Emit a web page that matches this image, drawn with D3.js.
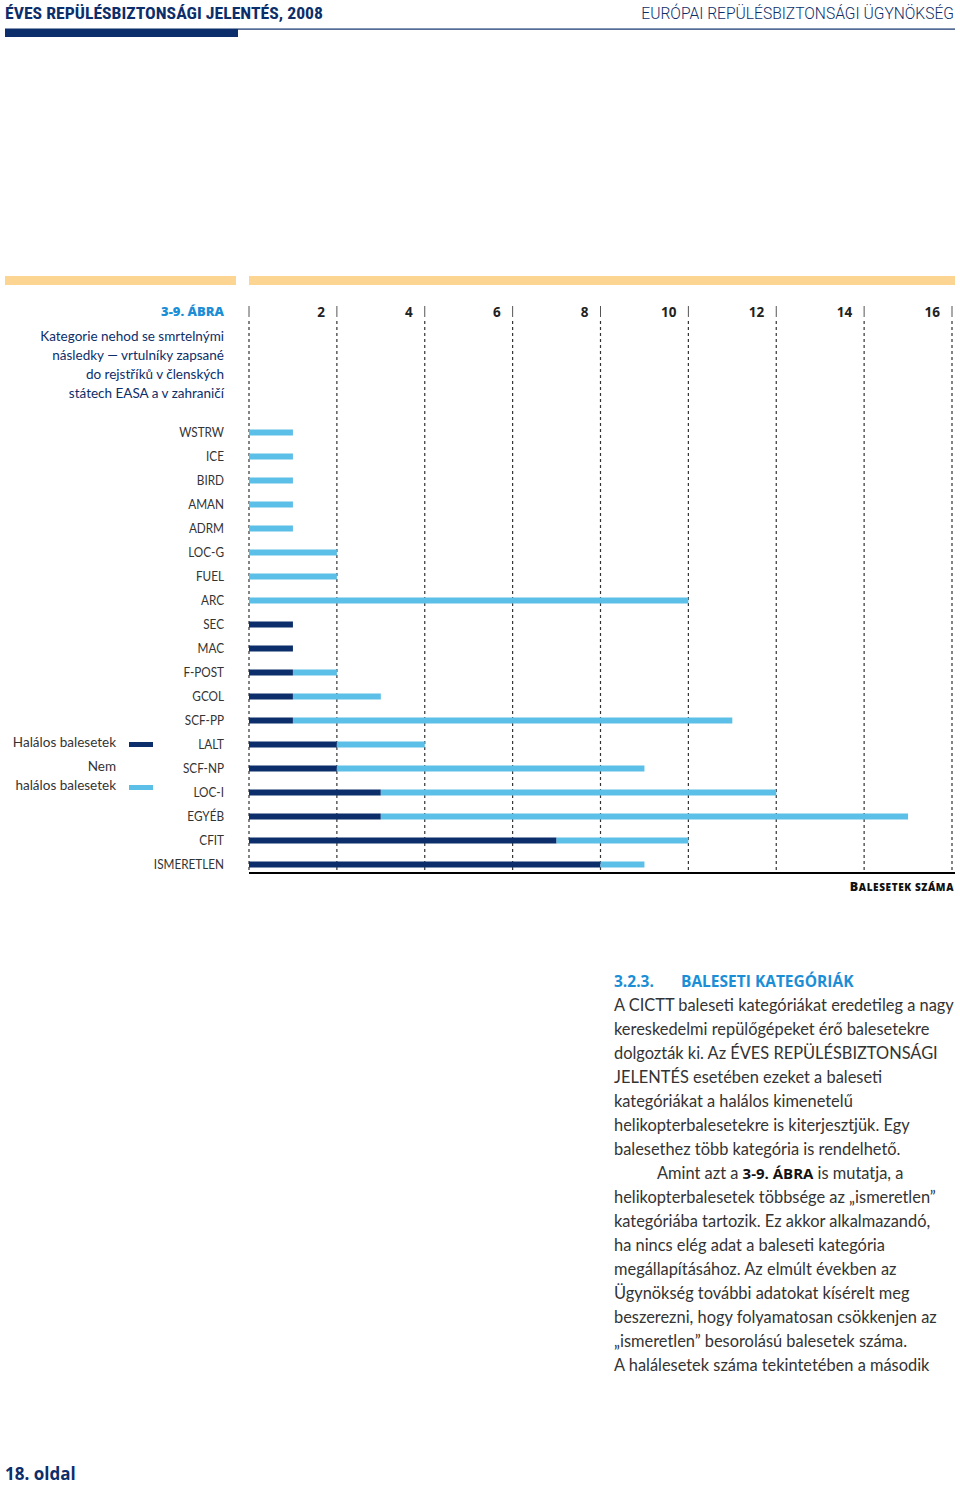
<!DOCTYPE html>
<html><head><meta charset="utf-8">
<script src="https://cdn.jsdelivr.net/npm/d3@7"></script>
<style>body{margin:0;background:#fff}svg{display:block}</style>
</head><body>
<svg id="c" width="960" height="1486"></svg>
<script>
const categories = ["WSTRW","ICE","BIRD","AMAN","ADRM","LOC-G","FUEL","ARC","SEC","MAC","F-POST","GCOL","SCF-PP","LALT","SCF-NP","LOC-I","EGYÉB","CFIT","ISMERETLEN"];
const fatal    = [0,0,0,0,0,0,0,0,1,1,1,1,1,2,2,3,3,7,8];
const nonFatal = [1,1,1,1,1,2,2,10,0,0,1,2,10,2,7,9,12,3,1];
const tickValues = [0,2,4,6,8,10,12,14,16];
const seriesNames = ["Halálos balesetek","Nem halálos balesetek"];
const headerLeft = "ÉVES REPÜLÉSBIZTONSÁGI JELENTÉS, 2008";
const headerRight = "EURÓPAI REPÜLÉSBIZTONSÁGI ÜGYNÖKSÉG";
const figLabel = "3-9. ÁBRA";
const subtitle = ["Kategorie nehod se smrtelnými","následky — vrtulníky zapsané","do rejstříků v členských","státech EASA a v zahraničí"];
const bodyLines = [
 "A CICTT baleseti kategóriákat eredetileg a nagy",
 "kereskedelmi repülőgépeket érő balesetekre",
 "dolgozták ki. Az ÉVES REPÜLÉSBIZTONSÁGI",
 "JELENTÉS esetében ezeket a baleseti",
 "kategóriákat a halálos kimenetelű",
 "helikopterbalesetekre is kiterjesztjük. Egy",
 "balesethez több kategória is rendelhető."
];
const bodyLines2 = [
 "helikopterbalesetek többsége az „ismeretlen”",
 "kategóriába tartozik. Ez akkor alkalmazandó,",
 "ha nincs elég adat a baleseti kategória",
 "megállapításához. Az elmúlt években az",
 "Ügynökség további adatokat kísérelt meg",
 "beszerezni, hogy folyamatosan csökkenjen az",
 "„ismeretlen” besorolású balesetek száma.",
 "A halálesetek száma tekintetében a második"
];

const NAVY = "#0c2e6a", LIGHT = "#5cbfe7", ORANGE = "#fcd592", BLUE = "#1b8ed6", TXT = "#333";
const FONT = "Lato, 'Open Sans', sans-serif";
const BOLD = "'Open Sans', sans-serif";
const svg = d3.select("#c").style("font-family", FONT);

// Header
svg.append("text").attr("x",5).attr("y",19).attr("font-size",17).attr("font-weight",700)
  .attr("fill",NAVY).attr("font-family","'Roboto Condensed', Roboto, sans-serif").attr("textLength",318).attr("lengthAdjust","spacingAndGlyphs").text(headerLeft);
svg.append("text").attr("x",954).attr("y",19).attr("font-size",15.6).attr("text-anchor","end")
  .attr("fill",NAVY).attr("font-family","Roboto, sans-serif").attr("font-weight",300).text(headerRight);
svg.append("rect").attr("x",5).attr("y",28.5).attr("width",950).attr("height",1.2).attr("fill",NAVY);
svg.append("rect").attr("x",5).attr("y",29).attr("width",233).attr("height",8).attr("fill",NAVY);

// Orange bars
svg.append("rect").attr("x",5).attr("y",276).attr("width",231).attr("height",9).attr("fill",ORANGE);
svg.append("rect").attr("x",249).attr("y",276).attr("width",706).attr("height",9).attr("fill",ORANGE);

// Scales
const x = d3.scaleLinear().domain([0,16]).range([249,952]);
const y = d3.scalePoint().domain(categories).range([432.5,864.5]);

// Figure label & subtitle
svg.append("text").attr("x",224).attr("y",316).attr("text-anchor","end").attr("font-size",13)
  .attr("font-family",BOLD).attr("font-weight",800).attr("fill",BLUE).text(figLabel);
svg.append("g").selectAll("text").data(subtitle).join("text")
  .attr("x",224).attr("y",(d,i)=>341+i*19).attr("text-anchor","end").attr("font-size",13.5)
  .attr("fill",NAVY).text(d=>d);

// Grid lines
const grid = svg.append("g");
grid.selectAll("line").data(tickValues).join("line")
  .attr("x1",d=>x(d)).attr("x2",d=>x(d)).attr("y1",321).attr("y2",873)
  .attr("stroke","#333").attr("stroke-width",1.2).attr("stroke-dasharray","3,3");
grid.append("g").selectAll("line").data(tickValues).join("line")
  .attr("x1",d=>x(d)).attr("x2",d=>x(d)).attr("y1",306).attr("y2",317)
  .attr("stroke","#555").attr("stroke-width",1);
grid.append("g").selectAll("text").data(tickValues.filter(d=>d>0)).join("text")
  .attr("x",d=>x(d)-12).attr("y",317).attr("text-anchor","end").attr("font-size",13.5)
  .attr("font-family",BOLD).attr("font-weight",700).attr("fill","#222").text(d=>d);

// Bars
const rows = categories.map((c,i)=>({c, f:fatal[i], n:nonFatal[i]}));
const bh = 6;
svg.append("g").selectAll("rect").data(rows.filter(r=>r.f>0)).join("rect")
  .attr("x",x(0)).attr("y",r=>y(r.c)-bh/2).attr("width",r=>x(r.f)-x(0)).attr("height",bh).attr("fill",NAVY);
svg.append("g").selectAll("rect").data(rows.filter(r=>r.n>0)).join("rect")
  .attr("x",r=>x(r.f)).attr("y",r=>y(r.c)-bh/2).attr("width",r=>x(r.f+r.n)-x(r.f)).attr("height",bh).attr("fill",LIGHT);

// Category labels
svg.append("g").attr("transform","translate(224,0) scale(0.87,1)")
  .selectAll("text").data(categories).join("text")
  .attr("x",0).attr("y",d=>y(d)+4.5).attr("text-anchor","end").attr("font-size",13.5)
  .attr("fill",TXT).text(d=>d);

// Axis line
svg.append("line").attr("x1",249).attr("x2",955).attr("y1",873).attr("y2",873).attr("stroke","#000").attr("stroke-width",2);
const at = svg.append("text").attr("x",954).attr("y",891).attr("text-anchor","end")
  .attr("font-family",BOLD).attr("font-weight",800).attr("fill","#111").attr("letter-spacing",0.6);
at.append("tspan").attr("font-size",12.5).text("B");
at.append("tspan").attr("font-size",10).text("ALESETEK SZÁMA");

// Legend
const lg = svg.append("g");
lg.append("text").attr("x",116).attr("y",747).attr("text-anchor","end").attr("font-size",13.5).attr("fill",TXT).text(seriesNames[0]);
lg.append("rect").attr("x",129).attr("y",742).attr("width",24).attr("height",5).attr("fill",NAVY);
lg.append("text").attr("x",116).attr("y",771).attr("text-anchor","end").attr("font-size",13.5).attr("fill",TXT).text("Nem");
lg.append("text").attr("x",116).attr("y",790).attr("text-anchor","end").attr("font-size",13.5).attr("fill",TXT).text("halálos balesetek");
lg.append("rect").attr("x",129).attr("y",785).attr("width",24).attr("height",5).attr("fill",LIGHT);

// Body text
const bt = svg.append("g").attr("font-size",16.4).attr("fill",TXT);
bt.append("text").attr("x",614).attr("y",987).attr("font-family",BOLD).attr("font-weight",700).attr("font-size",15.5).attr("fill",BLUE).text("3.2.3.");
bt.append("text").attr("x",681).attr("y",987).attr("font-family",BOLD).attr("font-weight",700).attr("font-size",15.5).attr("fill",BLUE).text("BALESETI KATEGÓRIÁK");
bt.selectAll("text.l1").data(bodyLines).join("text").attr("class","l1")
  .attr("x",614).attr("y",(d,i)=>1011+i*24).text(d=>d);
const am = bt.append("text").attr("x",657).attr("y",1011+7*24);
am.append("tspan").text("Amint azt a ");
am.append("tspan").attr("font-family",BOLD).attr("font-weight",700).attr("font-size",15).attr("fill","#111").text("3-9. ÁBRA");
am.append("tspan").text(" is mutatja, a");
bt.selectAll("text.l2").data(bodyLines2).join("text").attr("class","l2")
  .attr("x",614).attr("y",(d,i)=>1011+(i+8)*24).text(d=>d);

// Footer
svg.append("text").attr("x",5).attr("y",1480).attr("font-size",17).attr("font-family",BOLD).attr("font-weight",700).attr("fill",NAVY).text("18. oldal");
</script>
</body></html>
